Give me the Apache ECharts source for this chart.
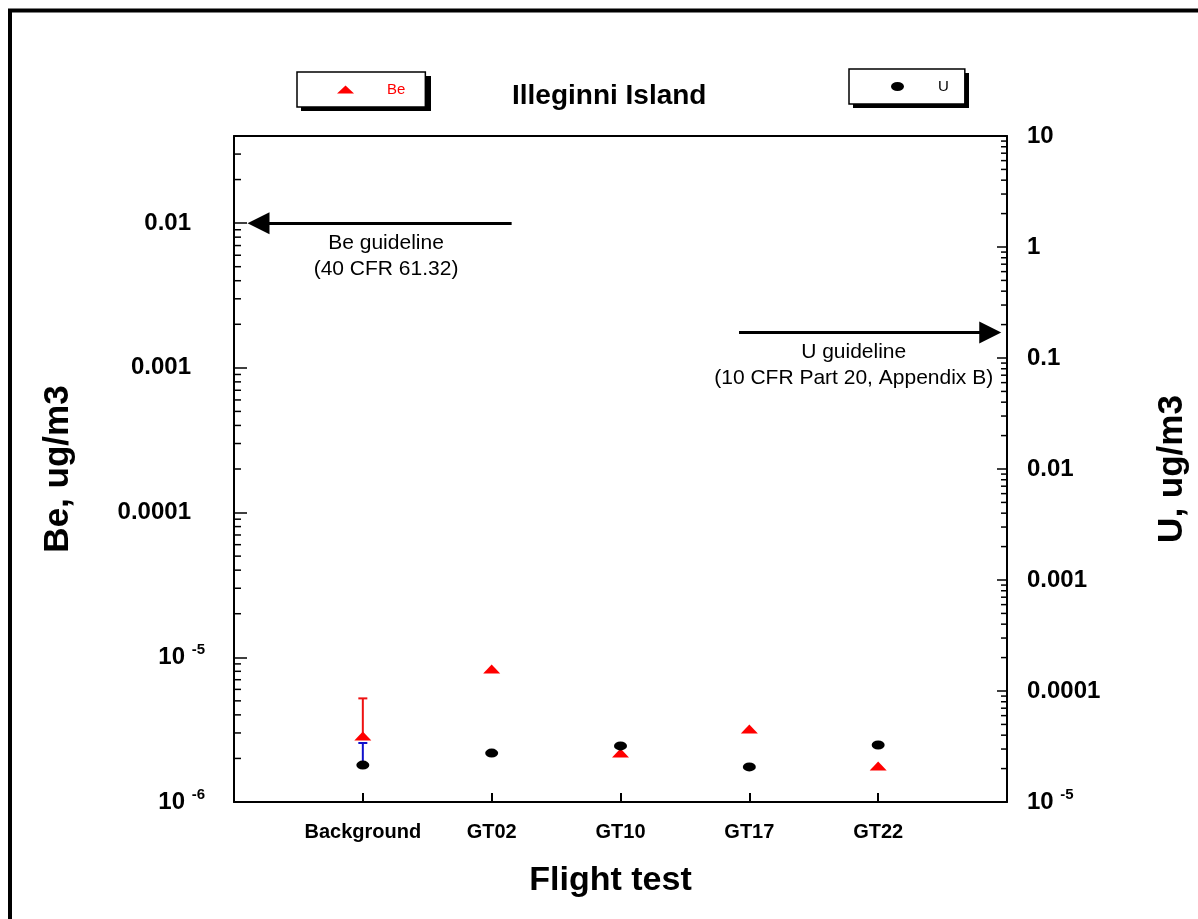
<!DOCTYPE html>
<html>
<head>
<meta charset="utf-8">
<script src="https://cdn.jsdelivr.net/npm/echarts@6/dist/echarts.min.js"></script>
<style>
html,body{margin:0;padding:0;background:#fff;}
#chart{width:1198px;height:919px;}
</style>
</head>
<body>
<div id="chart"></div>
<script>
// ---- data ----
const categories = ['Background', 'GT02', 'GT10', 'GT17', 'GT22'];
const beValues = [2.86e-6, 8.3e-6, 2.18e-6, 3.19e-6, 1.77e-6];   // ug/m3, left axis
const uValues  = [2.15e-5, 2.76e-5, 3.2e-5, 2.07e-5, 3.26e-5];   // ug/m3, right axis
const beErrorUpper = [5.2e-6, null, null, null, null];
const uErrorUpper  = [3.4e-5, null, null, null, null];
const beGuideline = 0.01;
const uGuideline = 0.17;
const beTickValues = [1e-6, 1e-5, 1e-4, 1e-3, 1e-2];
const beTickLabels = [['10', '-6'], ['10', '-5'], '0.0001', '0.001', '0.01'];
const uTickValues = [1e-5, 1e-4, 1e-3, 1e-2, 1e-1, 1, 10];
const uTickLabels = [['10', '-5'], '0.0001', '0.001', '0.01', '0.1', '1', '10'];

const FONT = '"Liberation Sans", Arial, Helvetica, sans-serif';
const ELLIPSE = 'path://M1 0A1 1 0 1 1 1 2A1 1 0 1 1 1 0Z';

function tickFormatter(values, labels) {
  return function (v) {
    const lv = Math.log10(v);
    for (let i = 0; i < values.length; i++) {
      if (Math.abs(lv - Math.log10(values[i])) < 1e-6) {
        const lab = labels[i];
        if (Array.isArray(lab)) return '{b|' + lab[0] + ' }{s|' + lab[1] + '}';
        return '{d|' + lab + '}';
      }
    }
    return '';
  };
}

// minor tick positions (2..9 x 10^n) inside each axis range
function minorTicks(minV, maxV) {
  const out = [];
  for (let e = Math.floor(Math.log10(minV)); e <= Math.ceil(Math.log10(maxV)); e++) {
    for (let k = 2; k <= 9; k++) {
      const v = k * Math.pow(10, e);
      if (v > minV && v < maxV * 1.0001) out.push(v);
    }
  }
  return out;
}
const beMinor = minorTicks(1e-6, 0.04);
const uMinor = minorTicks(1e-5, 10);

function errorRender(color) {
  return function (params, api) {
    const x = api.value(0), lo = api.value(1), hi = api.value(2);
    const p0 = api.coord([x, lo]);
    const p1 = api.coord([x, hi]);
    return {
      type: 'group',
      children: [
        {type: 'line', shape: {x1: p0[0], y1: p0[1], x2: p1[0], y2: p1[1]}, style: {stroke: color, lineWidth: 2}},
        {type: 'line', shape: {x1: p1[0] - 4.5, y1: p1[1], x2: p1[0] + 4.5, y2: p1[1]}, style: {stroke: color, lineWidth: 2}}
      ]
    };
  };
}
function minorRender(dir, len) {
  return function (params, api) {
    const p = api.coord([api.value(0), api.value(1)]);
    return {type: 'line', shape: {x1: p[0], y1: p[1], x2: p[0] + dir * len, y2: p[1]}, style: {stroke: '#000', lineWidth: 1.5}};
  };
}

const richLeft = {
  d: {fontSize: 24, fontWeight: 'bold', color: '#000', fontFamily: FONT, padding: [0, 14, 0, 0]},
  b: {fontSize: 24, fontWeight: 'bold', color: '#000', fontFamily: FONT},
  s: {fontSize: 15, fontWeight: 'bold', color: '#000', fontFamily: FONT, padding: [0, 0, 14, 0]}
};
const richRight = {
  d: {fontSize: 24, fontWeight: 'bold', color: '#000', fontFamily: FONT},
  b: {fontSize: 24, fontWeight: 'bold', color: '#000', fontFamily: FONT},
  s: {fontSize: 15, fontWeight: 'bold', color: '#000', fontFamily: FONT, padding: [0, 0, 14, 0]}
};

const legendCommon = {
  backgroundColor: '#fff', borderColor: '#000', borderWidth: 1.5,
  selectedMode: false, z: 10
};

const chart = echarts.init(document.getElementById('chart'), null, {renderer: 'canvas'});
const option = {
  backgroundColor: '#fff',
  animation: false,
  title: {
    text: 'Illeginni Island',
    left: 507, top: 77,
    textStyle: {fontFamily: FONT, fontSize: 28, fontWeight: 'bold', color: '#000'}
  },
  legend: [
    Object.assign({
      data: ['Be'], left: 297, top: 72, icon: 'triangle', itemWidth: 17, itemHeight: 8,
      padding: [10, 20, 10, 40],
      textStyle: {fontFamily: FONT, fontSize: 15, color: '#ff0000', padding: [0, 0, 0, 28]}
    }, legendCommon),
    Object.assign({
      data: ['U'], left: 849, top: 69, icon: ELLIPSE, itemWidth: 13, itemHeight: 9,
      symbolKeepAspect: false,
      padding: [10, 16, 10, 42],
      textStyle: {fontFamily: FONT, fontSize: 15, color: '#000', padding: [0, 0, 0, 29]}
    }, legendCommon)
  ],
  graphic: [
    {type: 'rect', shape: {x: 10, y: 10.5, width: 1300, height: 1000}, style: {fill: 'none', stroke: '#000', lineWidth: 4}, silent: true, z: 100},
    // drop shadows behind the two legend boxes
    {type: 'rect', shape: {x: 301, y: 76, width: 130, height: 35}, style: {fill: '#000'}, silent: true, z: 1},
    {type: 'rect', shape: {x: 853, y: 73, width: 116, height: 35}, style: {fill: '#000'}, silent: true, z: 1}
  ],
  grid: {left: 234, right: 190, top: 136, bottom: 117, containLabel: false},
  xAxis: [
    {
      type: 'value', min: 0, max: 6, interval: 1, position: 'bottom',
      name: 'Flight test', nameLocation: 'middle', nameGap: 62,
      nameTextStyle: {fontFamily: FONT, fontSize: 34, fontWeight: 'bold', color: '#000', padding: [0, 20, 0, 0]},
      axisLine: {show: true, onZero: false, lineStyle: {color: '#000', width: 2}},
      axisTick: {show: true, inside: true, length: 9, lineStyle: {color: '#000', width: 2}},
      axisLabel: {
        margin: 20, fontFamily: FONT, fontSize: 20, fontWeight: 'bold', color: '#000',
        formatter: function (v) { return categories[Math.round(v) - 1] || ''; }
      },
      splitLine: {show: false}
    },
    {
      type: 'value', min: 0, max: 6, position: 'top',
      axisLine: {show: true, onZero: false, lineStyle: {color: '#000', width: 2}},
      axisTick: {show: false}, axisLabel: {show: false}, splitLine: {show: false}
    }
  ],
  yAxis: [
    {
      type: 'log', logBase: 10, min: 1e-6, max: 0.04, position: 'left',
      name: 'Be, ug/m3', nameLocation: 'middle', nameGap: 158,
      nameTextStyle: {fontFamily: FONT, fontSize: 35, fontWeight: 'bold', color: '#000'},
      axisLine: {show: true, onZero: false, lineStyle: {color: '#000', width: 2}},
      axisTick: {show: true, inside: true, length: 13, lineStyle: {color: '#000', width: 1.5}},
      axisLabel: {margin: 29, formatter: tickFormatter(beTickValues, beTickLabels), rich: richLeft},
      splitLine: {show: false}
    },
    {
      type: 'log', logBase: 10, min: 1e-5, max: 10, position: 'right',
      name: 'U, ug/m3', nameLocation: 'middle', nameGap: 148,
      nameTextStyle: {fontFamily: FONT, fontSize: 35, fontWeight: 'bold', color: '#000'},
      axisLine: {show: true, onZero: false, lineStyle: {color: '#000', width: 2}},
      axisTick: {show: true, inside: true, length: 10, lineStyle: {color: '#000', width: 1.5}},
      axisLabel: {margin: 20, formatter: tickFormatter(uTickValues, uTickLabels), rich: richRight},
      splitLine: {show: false}
    }
  ],
  series: [
    {
      name: 'BeMinor', type: 'custom', xAxisIndex: 0, yAxisIndex: 0, clip: false, silent: true,
      renderItem: minorRender(1, 7), data: beMinor.map(v => [0, v]), z: 1
    },
    {
      name: 'UMinor', type: 'custom', xAxisIndex: 0, yAxisIndex: 1, clip: false, silent: true,
      renderItem: minorRender(-1, 6), data: uMinor.map(v => [6, v]), z: 1
    },
    {
      name: 'BeErr', type: 'custom', xAxisIndex: 0, yAxisIndex: 0, clip: false, silent: true,
      renderItem: errorRender('#ee1111'),
      data: beErrorUpper.map((h, i) => h == null ? null : [i + 1, beValues[i], h]).filter(d => d), z: 2
    },
    {
      name: 'UErr', type: 'custom', xAxisIndex: 0, yAxisIndex: 1, clip: false, silent: true,
      renderItem: errorRender('#1111cc'),
      data: uErrorUpper.map((h, i) => h == null ? null : [i + 1, uValues[i], h]).filter(d => d), z: 2
    },
    {
      name: 'Be', type: 'scatter', xAxisIndex: 0, yAxisIndex: 0,
      symbol: 'triangle', symbolSize: [17, 9], itemStyle: {color: '#ff0000', opacity: 1},
      data: beValues.map((v, i) => [i + 1, v]), z: 5,
      markLine: {
        silent: true, symbol: ['none', 'triangle'], symbolSize: 22,
        lineStyle: {color: '#000', width: 3, type: 'solid'},
        label: {show: false},
        data: [[{coord: [2.155, beGuideline]}, {coord: [0.19, beGuideline]}]]
      },
      markPoint: {
        silent: true, symbol: 'circle', symbolSize: 0,
        label: {
          show: true, position: 'bottom', distance: 7, color: '#000', fontFamily: FONT, fontSize: 21,
          lineHeight: 26, align: 'center'
        },
        data: [{coord: [1.18, beGuideline], label: {formatter: 'Be guideline\n(40 CFR 61.32)'}}]
      }
    },
    {
      name: 'U', type: 'scatter', xAxisIndex: 0, yAxisIndex: 1,
      symbol: ELLIPSE, symbolKeepAspect: false, symbolSize: [13, 9], itemStyle: {color: '#000', opacity: 1},
      data: uValues.map((v, i) => [i + 1, v]), z: 5,
      markLine: {
        silent: true, symbol: ['none', 'triangle'], symbolSize: 22,
        lineStyle: {color: '#000', width: 3, type: 'solid'},
        label: {show: false},
        data: [[{coord: [3.92, uGuideline]}, {coord: [5.87, uGuideline]}]]
      },
      markPoint: {
        silent: true, symbol: 'circle', symbolSize: 0,
        label: {
          show: true, position: 'bottom', distance: 7, color: '#000', fontFamily: FONT, fontSize: 21,
          lineHeight: 26, align: 'center'
        },
        data: [{coord: [4.81, uGuideline], label: {formatter: 'U guideline\n(10 CFR Part 20, Appendix B)'}}]
      }
    }
  ]
};
chart.setOption(option);
</script>
</body>
</html>
